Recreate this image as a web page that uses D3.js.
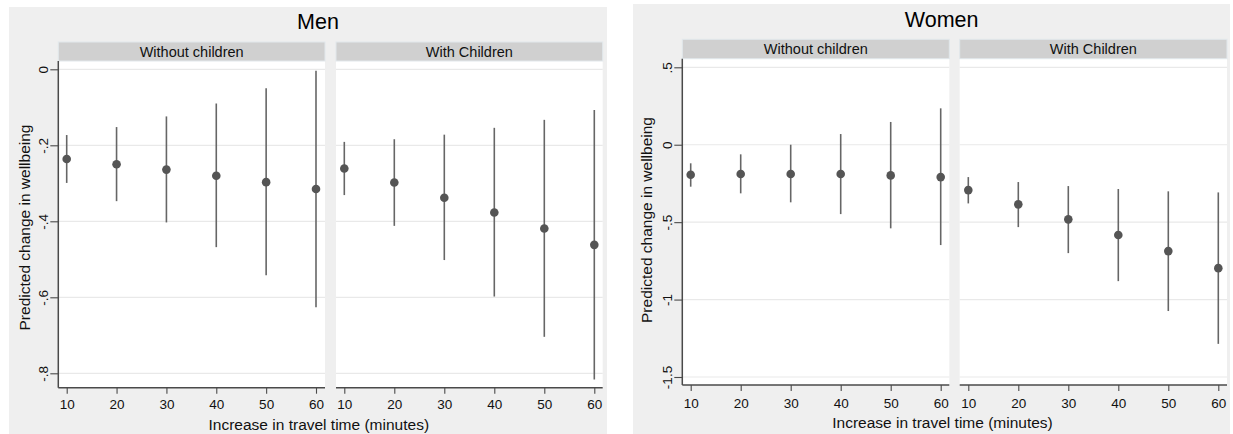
<!DOCTYPE html>
<html><head><meta charset="utf-8">
<script src="https://cdn.jsdelivr.net/npm/d3@7"></script>
<style>
html,body{margin:0;padding:0;background:#fff;}
svg{display:block;font-family:"Liberation Sans",Arial,sans-serif;}
</style></head>
<body><svg id="c" width="1233" height="434"></svg>
<script>
// ---- data ----
const minutes = [10, 20, 30, 40, 50, 60];
const groupTitles = ["Men", "Women"];
const panelTitles = ["Without children", "With Children"];

const menNoChildEst = [-0.236, -0.250, -0.264, -0.280, -0.297, -0.315];
const menNoChildLo  = [-0.299, -0.347, -0.403, -0.468, -0.542, -0.626];
const menNoChildHi  = [-0.173, -0.152, -0.124, -0.090, -0.050, -0.004];

const menChildEst = [-0.261, -0.298, -0.338, -0.377, -0.419, -0.462];
const menChildLo  = [-0.331, -0.412, -0.502, -0.598, -0.704, -0.816];
const menChildHi  = [-0.191, -0.184, -0.172, -0.154, -0.133, -0.107];

const womenNoChildEst = [-0.194, -0.189, -0.189, -0.189, -0.198, -0.209];
const womenNoChildLo  = [-0.271, -0.314, -0.372, -0.448, -0.540, -0.648];
const womenNoChildHi  = [-0.120, -0.062, 0.000, 0.069, 0.147, 0.235];

const womenChildEst = [-0.293, -0.385, -0.482, -0.583, -0.687, -0.797];
const womenChildLo  = [-0.379, -0.532, -0.700, -0.881, -1.074, -1.286];
const womenChildHi  = [-0.209, -0.241, -0.267, -0.286, -0.301, -0.308];

const menYTicks = [0, -0.2, -0.4, -0.6, -0.8];
const menYTickLabels = ["0", "-.2", "-.4", "-.6", "-.8"];
const womenYTicks = [0.5, 0, -0.5, -1, -1.5];
const womenYTickLabels = [".5", "0", "-.5", "-1", "-1.5"];

const xTitle = "Increase in travel time (minutes)";
const yTitle = "Predicted change in wellbeing";

// ---- layout ----
const svg = d3.select("#c");
const BG = "#efefef", STRIP = "#d0d0d0", STRIPLINE = "#e2e8ec", GRID = "#e9e9e9",
      AXIS = "#4a4a4a", MARK = "#555555", CI = "#666666";

const groups = [
  { title: groupTitles[0], bg: [9, 7, 607, 434], titleX: 318, titleY: 29.3,
    strip: [42, 61], plotBottom: 387.7, yTickDomain: [0, -0.8], yTickRange: [69.3, 373.3],
    yTicks: menYTicks, yLabels: menYTickLabels, yTitleX: 29.5, yTitleY: 227.5,
    xTitleX: 318.8, xTitleY: 430.3, xLabelY: 409.3,
    panels: [
      { x0: 58.3, x1: 325, xr: [66.7, 316], est: menNoChildEst, lo: menNoChildLo, hi: menNoChildHi, axisY: true },
      { x0: 336, x1: 602.7, xr: [344.3, 594.3], est: menChildEst, lo: menChildLo, hi: menChildHi, axisY: false }
    ] },
  { title: groupTitles[1], bg: [633, 4, 1230, 434], titleX: 941.7, titleY: 26.7,
    strip: [39.3, 58.7], plotBottom: 385, yTickDomain: [0.5, -1.5], yTickRange: [67.3, 377],
    yTicks: womenYTicks, yLabels: womenYTickLabels, yTitleX: 652, yTitleY: 220,
    xTitleX: 942.5, xTitleY: 428.3, xLabelY: 407.7,
    panels: [
      { x0: 682.3, x1: 949.3, xr: [690.7, 940.7], est: womenNoChildEst, lo: womenNoChildLo, hi: womenNoChildHi, axisY: true },
      { x0: 959.7, x1: 1227, xr: [968.3, 1218.3], est: womenChildEst, lo: womenChildLo, hi: womenChildHi, axisY: false }
    ] }
];

groups.forEach(g => {
  const G = svg.append("g");
  G.append("rect").attr("x", g.bg[0]).attr("y", g.bg[1])
    .attr("width", g.bg[2] - g.bg[0]).attr("height", g.bg[3] - g.bg[1]).attr("fill", BG);
  G.append("text").attr("x", g.titleX).attr("y", g.titleY).attr("text-anchor", "middle")
    .attr("font-size", 21.5).attr("fill", "#000").text(g.title);

  const y = d3.scaleLinear().domain(g.yTickDomain).range(g.yTickRange);

  g.panels.forEach((p, pi) => {
    const x = d3.scaleLinear().domain([10, 60]).range(p.xr);
    const top = g.strip[1];
    // plot area
    G.append("rect").attr("x", p.x0).attr("y", top).attr("width", p.x1 - p.x0)
      .attr("height", g.plotBottom - top).attr("fill", "#fff");
    // strip
    G.append("rect").attr("x", p.x0).attr("y", g.strip[0]).attr("width", p.x1 - p.x0)
      .attr("height", g.strip[1] - g.strip[0]).attr("fill", STRIP)
      .attr("stroke", STRIPLINE).attr("stroke-width", 1);
    G.append("text").attr("x", (p.x0 + p.x1) / 2).attr("y", (g.strip[0] + g.strip[1]) / 2 + 5.2)
      .attr("text-anchor", "middle").attr("font-size", 14.5).attr("fill", "#111")
      .text(panelTitles[pi]);
    // gridlines
    G.append("g").selectAll("line").data(g.yTicks).join("line")
      .attr("x1", p.x0).attr("x2", p.x1)
      .attr("y1", d => y(d)).attr("y2", d => y(d))
      .attr("stroke", GRID).attr("stroke-width", 1.2);
    // x axis
    const xa = G.append("g").attr("transform", `translate(0,${g.plotBottom})`)
      .call(d3.axisBottom(x).tickValues(minutes).tickFormat(d3.format("d")).tickSize(6).tickSizeOuter(0));
    xa.select(".domain").attr("stroke", AXIS).attr("stroke-width", 1.5)
      .attr("d", `M${p.x0},0H${p.x1}`);
    xa.selectAll(".tick line").attr("stroke", AXIS).attr("stroke-width", 1.1);
    xa.selectAll(".tick text").attr("font-size", 13.5).attr("fill", "#111")
      .attr("font-family", "Liberation Sans, Arial, sans-serif")
      .attr("y", g.xLabelY - g.plotBottom).attr("dy", 0);
    // y axis
    if (p.axisY) {
      const ya = G.append("g").attr("transform", `translate(${p.x0},0)`)
        .call(d3.axisLeft(y).tickValues(g.yTicks).tickFormat((d, i) => g.yLabels[i]).tickSize(8).tickSizeOuter(0));
      ya.select(".domain").attr("stroke", AXIS).attr("stroke-width", 1.5)
        .attr("d", `M0,${top}V${g.plotBottom}`);
      ya.selectAll(".tick line").attr("stroke", AXIS).attr("stroke-width", 1.1);
      ya.selectAll(".tick text").attr("font-size", 13.5).attr("fill", "#111")
        .attr("font-family", "Liberation Sans, Arial, sans-serif")
        .attr("x", null).attr("dy", 0).attr("text-anchor", "middle")
        .attr("transform", "translate(-10,0) rotate(-90)");
    }
    // CI lines
    G.append("g").selectAll("line").data(minutes).join("line")
      .attr("x1", d => x(d)).attr("x2", d => x(d))
      .attr("y1", (d, i) => y(p.hi[i])).attr("y2", (d, i) => y(p.lo[i]))
      .attr("stroke", CI).attr("stroke-width", 1.6);
    // points
    G.append("g").selectAll("circle").data(minutes).join("circle")
      .attr("cx", d => x(d)).attr("cy", (d, i) => y(p.est[i])).attr("r", 4.3)
      .attr("fill", MARK);
  });

  G.append("text").attr("x", g.xTitleX).attr("y", g.xTitleY).attr("text-anchor", "middle")
    .attr("font-size", 15.5).attr("fill", "#111").text(xTitle);
  G.append("text").attr("transform", `translate(${g.yTitleX},${g.yTitleY}) rotate(-90)`)
    .attr("text-anchor", "middle").attr("font-size", 15.5).attr("fill", "#111").text(yTitle);
});
</script></body></html>
